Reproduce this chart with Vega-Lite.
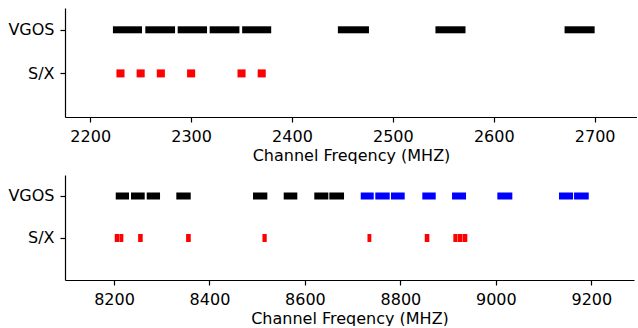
{
  "$schema": "https://vega.github.io/schema/vega-lite/v6.json",
  "padding": {"left": 7, "top": 8, "right": 0, "bottom": 0},
  "spacing": 12,
  "config": {
    "view": {"stroke": null},
    "font": "DejaVu Sans",
    "axis": {
      "domainColor": "black", "domainWidth": 1.2,
      "tickColor": "black", "tickWidth": 1.2, "tickSize": 5,
      "labelFont": "DejaVu Sans", "labelFontSize": 16, "labelColor": "black", "labelPadding": 5,
      "titleFont": "DejaVu Sans", "titleFontSize": 16, "titleFontWeight": "normal", "titleColor": "black",
      "grid": false, "labelFlush": false
    }
  },
  "datasets": {
    "sband": [
      {"sys": "VGOS", "set": "A", "start": 2222.5, "end": 2251.3},
      {"sys": "VGOS", "set": "A", "start": 2254.6, "end": 2284.1},
      {"sys": "VGOS", "set": "A", "start": 2286.7, "end": 2315.8},
      {"sys": "VGOS", "set": "A", "start": 2318.4, "end": 2347.9},
      {"sys": "VGOS", "set": "A", "start": 2350.6, "end": 2379.4},
      {"sys": "VGOS", "set": "A", "start": 2445.5, "end": 2476.3},
      {"sys": "VGOS", "set": "A", "start": 2542.2, "end": 2572.0},
      {"sys": "VGOS", "set": "A", "start": 2670.2, "end": 2700.0},
      {"sys": "S/X", "set": "SX", "start": 2226, "end": 2234},
      {"sys": "S/X", "set": "SX", "start": 2246, "end": 2254},
      {"sys": "S/X", "set": "SX", "start": 2266, "end": 2274},
      {"sys": "S/X", "set": "SX", "start": 2296, "end": 2304},
      {"sys": "S/X", "set": "SX", "start": 2346, "end": 2354},
      {"sys": "S/X", "set": "SX", "start": 2366, "end": 2374}
    ],
    "xband": [
      {"sys": "VGOS", "set": "A", "start": 8203.6, "end": 8231.4},
      {"sys": "VGOS", "set": "A", "start": 8235.6, "end": 8264.3},
      {"sys": "VGOS", "set": "A", "start": 8268.5, "end": 8296.4},
      {"sys": "VGOS", "set": "A", "start": 8330.5, "end": 8360.7},
      {"sys": "VGOS", "set": "A", "start": 8491.2, "end": 8521.2},
      {"sys": "VGOS", "set": "A", "start": 8555.5, "end": 8584.0},
      {"sys": "VGOS", "set": "A", "start": 8619.6, "end": 8649.0},
      {"sys": "VGOS", "set": "A", "start": 8651.1, "end": 8681.9},
      {"sys": "VGOS", "set": "B", "start": 8716.9, "end": 8744.1},
      {"sys": "VGOS", "set": "B", "start": 8747.4, "end": 8777.6},
      {"sys": "VGOS", "set": "B", "start": 8780.3, "end": 8809.0},
      {"sys": "VGOS", "set": "B", "start": 8845.9, "end": 8874.0},
      {"sys": "VGOS", "set": "B", "start": 8908.2, "end": 8937.5},
      {"sys": "VGOS", "set": "B", "start": 9003.1, "end": 9034.5},
      {"sys": "VGOS", "set": "B", "start": 9132.3, "end": 9161.7},
      {"sys": "VGOS", "set": "B", "start": 9163.8, "end": 9194.6},
      {"sys": "S/X", "set": "SX", "start": 8201.5, "end": 8210.8},
      {"sys": "S/X", "set": "SX", "start": 8211.3, "end": 8219.5},
      {"sys": "S/X", "set": "SX", "start": 8250.5, "end": 8260.1},
      {"sys": "S/X", "set": "SX", "start": 8351.0, "end": 8360.7},
      {"sys": "S/X", "set": "SX", "start": 8511.0, "end": 8519.9},
      {"sys": "S/X", "set": "SX", "start": 8731.0, "end": 8739.1},
      {"sys": "S/X", "set": "SX", "start": 8851.0, "end": 8860.6},
      {"sys": "S/X", "set": "SX", "start": 8910.9, "end": 8919.0},
      {"sys": "S/X", "set": "SX", "start": 8919.6, "end": 8929.5},
      {"sys": "S/X", "set": "SX", "start": 8930.1, "end": 8940.2}
    ]
  },
  "vconcat": [
    {
      "width": 572,
      "height": 109,
      "data": {"name": "sband"},
      "encoding": {
        "x": {"field": "start", "type": "quantitative",
          "scale": {"domain": [2175, 2742], "nice": false, "zero": false},
          "axis": {"values": [2200, 2300, 2400, 2500, 2600, 2700], "format": "d", "title": "Channel Freqency (MHZ)", "labelPadding": 6, "titlePadding": 3}},
        "x2": {"field": "end"},
        "y": {"field": "sys", "type": "ordinal",
          "scale": {"type": "point", "domain": ["VGOS", "S/X"], "padding": 0.75, "align": 0.3333},
          "axis": {"title": null, "labelPadding": 6}},
        "color": {"field": "set", "type": "nominal",
          "scale": {"domain": ["A", "B", "SX"], "range": ["#000000", "#0000ff", "#ff0000"]}, "legend": null}
      },
      "layer": [
        {"transform": [{"filter": "datum.sys === 'VGOS'"}], "mark": {"type": "rule", "strokeWidth": 7, "strokeCap": "butt"}},
        {"transform": [{"filter": "datum.sys === 'S/X'"}], "mark": {"type": "rule", "strokeWidth": 8, "strokeCap": "butt"}}
      ]
    },
    {
      "width": 569,
      "height": 105,
      "data": {"name": "xband"},
      "encoding": {
        "x": {"field": "start", "type": "quantitative",
          "scale": {"domain": [8097.3, 9289.4], "nice": false, "zero": false},
          "axis": {"values": [8200, 8400, 8600, 8800, 9000, 9200], "format": "d", "title": "Channel Freqency (MHZ)", "labelPadding": 6, "titlePadding": 3}},
        "x2": {"field": "end"},
        "y": {"field": "sys", "type": "ordinal",
          "scale": {"type": "point", "domain": ["VGOS", "S/X"], "padding": 0.75, "align": 0.3333},
          "axis": {"title": null, "labelPadding": 6}},
        "color": {"field": "set", "type": "nominal",
          "scale": {"domain": ["A", "B", "SX"], "range": ["#000000", "#0000ff", "#ff0000"]}, "legend": null}
      },
      "layer": [
        {"transform": [{"filter": "datum.sys === 'VGOS'"}], "mark": {"type": "rule", "strokeWidth": 7, "strokeCap": "butt"}},
        {"transform": [{"filter": "datum.sys === 'S/X'"}], "mark": {"type": "rule", "strokeWidth": 8, "strokeCap": "butt"}}
      ]
    }
  ]
}
